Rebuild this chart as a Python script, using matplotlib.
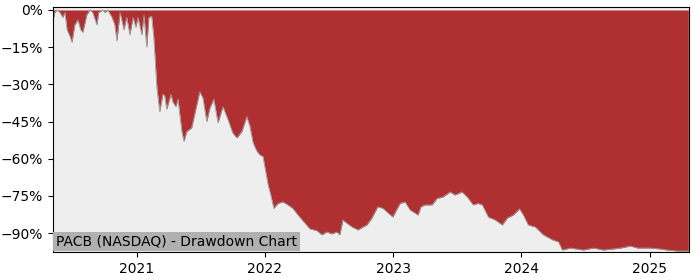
import matplotlib
matplotlib.use("Agg")
import matplotlib.pyplot as plt
import matplotlib.dates as mdates
from matplotlib.ticker import PercentFormatter
import pandas as pd

# drawdown readings (date, % below running peak)
dates = [
    "2020-05-07", "2020-05-12", "2020-05-18", "2020-05-27", "2020-06-04", "2020-06-10",
    "2020-06-16", "2020-06-24", "2020-06-30", "2020-07-08", "2020-07-17", "2020-07-25",
    "2020-07-31", "2020-08-11", "2020-08-20", "2020-08-28", "2020-09-09", "2020-09-14",
    "2020-09-26", "2020-10-02", "2020-10-10", "2020-10-22", "2020-10-30", "2020-11-05",
    "2020-11-14", "2020-11-25", "2020-12-03", "2020-12-12", "2020-12-21", "2020-12-29",
    "2021-01-04", "2021-01-15", "2021-01-21", "2021-01-29", "2021-02-04", "2021-02-12",
    "2021-02-18", "2021-02-27", "2021-03-07", "2021-03-16", "2021-03-21", "2021-03-27",
    "2021-04-08", "2021-04-13", "2021-04-22", "2021-04-28", "2021-05-09", "2021-05-15",
    "2021-05-23", "2021-06-06", "2021-06-21", "2021-06-29", "2021-07-08", "2021-07-19",
    "2021-07-28", "2021-08-08", "2021-08-20", "2021-09-03", "2021-09-17", "2021-10-01",
    "2021-10-13", "2021-10-27", "2021-11-10", "2021-11-19", "2021-11-28", "2021-12-09",
    "2021-12-18", "2021-12-26", "2022-01-04", "2022-01-09", "2022-01-18", "2022-01-26",
    "2022-02-07", "2022-02-21", "2022-03-07", "2022-03-21", "2022-04-05", "2022-04-25",
    "2022-05-09", "2022-05-29", "2022-06-12", "2022-06-26", "2022-07-10", "2022-07-25",
    "2022-08-02", "2022-08-11", "2022-08-22", "2022-09-06", "2022-09-23", "2022-10-07",
    "2022-10-18", "2022-11-01", "2022-11-18", "2022-12-03", "2022-12-14", "2022-12-31",
    "2023-01-13", "2023-01-21", "2023-02-04", "2023-02-18", "2023-03-13", "2023-03-21",
    "2023-04-02", "2023-04-22", "2023-05-06", "2023-05-23", "2023-06-12", "2023-06-26",
    "2023-07-16", "2023-07-31", "2023-08-17", "2023-08-31", "2023-09-12", "2023-09-29",
    "2023-10-19", "2023-11-08", "2023-11-22", "2023-12-09", "2023-12-27", "2024-01-07",
    "2024-01-21", "2024-02-10", "2024-03-04", "2024-03-30", "2024-04-16", "2024-04-27",
    "2024-05-20", "2024-06-26", "2024-07-25", "2024-08-22", "2024-09-17", "2024-10-10",
    "2024-11-07", "2024-11-27", "2025-01-03", "2025-02-01", "2025-02-20", "2025-03-21",
    "2025-04-21",
]
drawdown = [
    -4, -1, 0, -1, -3, -1,
    -8, -10.5, -13, -6, -4, -8,
    -9, -2, 0, -1, -6, -1,
    0, -1, 0, -3, -6, -12.5,
    -1, -8, -3, -10, -3, -7,
    -3, -10, -2, -15, -3, -2.5,
    -11, -31.5, -41, -34, -34.5, -40,
    -34, -37, -39, -36, -49, -53,
    -49, -47.5, -38, -33, -35.5, -45,
    -39.5, -36, -45.5, -39, -44, -49.6,
    -51.6, -49, -43, -47, -53.6, -57,
    -58.5, -59, -66, -70, -75, -80,
    -78, -77.4, -78.6, -80, -82.7, -86,
    -88.3, -89, -90.7, -89.5, -90.3, -89.5,
    -90.7, -84.7, -86, -87.5, -88.7, -87.5,
    -86.7, -84, -79.4, -80, -81.4, -83.5,
    -80, -78, -77.4, -80.6, -82.7, -79.4,
    -78.6, -78.6, -76, -75.4, -73.4, -74.6,
    -73.4, -75.4, -78.6, -78, -78.6, -83.5,
    -84.7, -86.7, -83.9, -82.7, -80.2, -82.7,
    -86.7, -87.5, -90.7, -92.7, -93.5, -96.8,
    -96, -96.8, -96, -96.8, -96.4, -96,
    -95.2, -96, -96, -96.4, -96.8, -97.2,
    -97.2,
]

x = pd.to_datetime(dates)

fig = plt.figure(figsize=(7, 2.8), dpi=100)
ax = fig.add_axes([0.0757, 0.1, 0.9086, 0.875])
ax.set_facecolor("#eeeeee")

ax.fill_between(x, drawdown, 0, color="#b03031", linewidth=0)
ax.plot(x, drawdown, color="#9a9a9a", linewidth=0.6)

ax.set_xlim(x[0], x[-1] + pd.Timedelta(days=2))
ax.set_ylim(-97.6, 1.2)
ax.set_yticks([0, -15, -30, -45, -60, -75, -90])
ax.yaxis.set_major_formatter(PercentFormatter(decimals=0))
ax.xaxis.set_major_locator(mdates.YearLocator())
ax.xaxis.set_major_formatter(mdates.DateFormatter("%Y"))
ax.tick_params(labelsize=10)

ax.text(0.005, 0.015, "PACB (NASDAQ) - Drawdown Chart", transform=ax.transAxes,
        fontsize=10, ha="left", va="bottom",
        bbox=dict(facecolor="#b0b0b0", edgecolor="none", pad=2))

fig.savefig("out.png")
